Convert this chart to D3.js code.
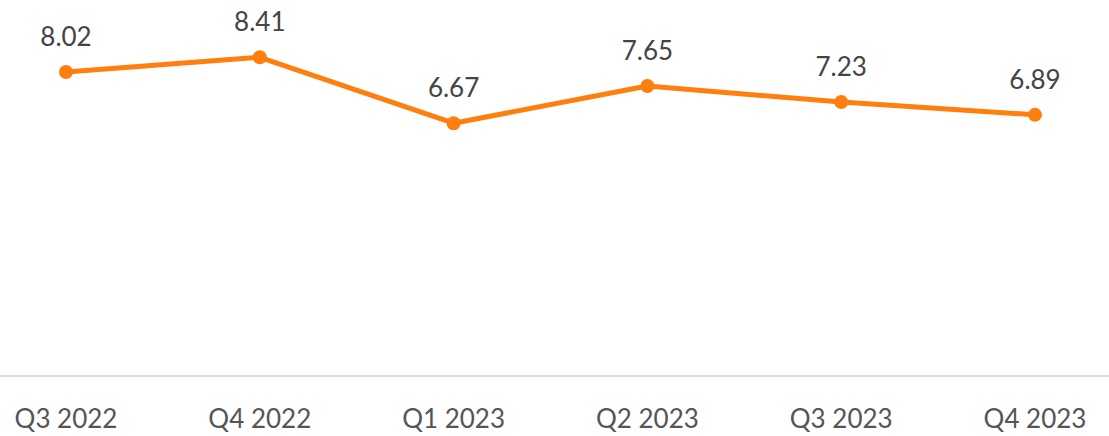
<!DOCTYPE html>
<html lang="en">
  <head>
    <meta charset="UTF-8" />
    <title>Quarterly line</title>
    <script src="https://cdn.jsdelivr.net/npm/d3@7/dist/d3.min.js"></script>
    <style>
      body { margin: 0; background: #fff; }
      text { font-family: Lato, "Noto Sans", sans-serif; }
    </style>
  </head>
  <body>
    <script>
      const quarters = ["Q3 2022", "Q4 2022", "Q1 2023", "Q2 2023", "Q3 2023", "Q4 2023"];
      const values = [8.02, 8.41, 6.67, 7.65, 7.23, 6.89];

      const width = 1109;
      const height = 436;

      const svg = d3
        .select("body")
        .append("svg")
        .attr("width", width)
        .attr("height", height);

      const x = d3.scalePoint().domain(quarters).range([66, 1035]);
      const y = d3.scaleLinear().domain([0, 10]).range([376, -3]);

      // axis line
      svg
        .append("line")
        .attr("x1", 0)
        .attr("x2", width)
        .attr("y1", y(0))
        .attr("y2", y(0))
        .attr("stroke", "#dddddd")
        .attr("stroke-width", 2);

      // category labels
      svg
        .selectAll("text.tick")
        .data(quarters)
        .enter()
        .append("text")
        .attr("class", "tick")
        .attr("x", (d) => x(d))
        .attr("y", 428)
        .attr("text-anchor", "middle")
        .attr("font-size", 26)
        .attr("fill", "#555")
        .text((d) => d);

      const line = d3
        .line()
        .x((d, i) => x(quarters[i]))
        .y((d) => y(d));

      svg
        .append("path")
        .datum(values)
        .attr("fill", "none")
        .attr("stroke", "#ff7f0e")
        .attr("stroke-width", 5)
        .attr("stroke-linejoin", "round")
        .attr("d", line);

      svg
        .selectAll("circle")
        .data(values)
        .enter()
        .append("circle")
        .attr("cx", (d, i) => x(quarters[i]))
        .attr("cy", (d) => y(d))
        .attr("r", 7)
        .attr("fill", "#ff7f0e");

      svg
        .selectAll("text.val")
        .data(values)
        .enter()
        .append("text")
        .attr("class", "val")
        .attr("x", (d, i) => x(quarters[i]))
        .attr("y", (d) => y(d) - 26)
        .attr("text-anchor", "middle")
        .attr("font-size", 26)
        .attr("fill", "#444")
        .text((d) => d.toFixed(2));
    </script>
  </body>
</html>
